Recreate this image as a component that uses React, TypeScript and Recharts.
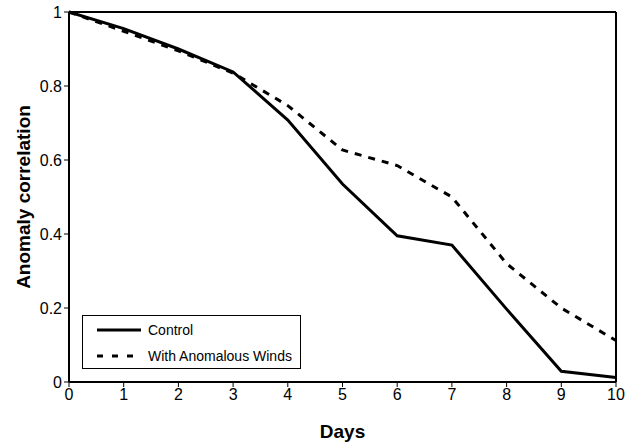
import React from "react";
import {
  LineChart,
  Line,
  XAxis,
  YAxis,
  ReferenceLine,
} from "recharts";

const days = [0, 1, 2, 3, 4, 5, 6, 7, 8, 9, 10];
const control = [1.0, 0.955, 0.9, 0.838, 0.708, 0.535, 0.395, 0.37, 0.197, 0.029, 0.012];
const anomalousWinds = [1.0, 0.948, 0.895, 0.835, 0.747, 0.627, 0.585, 0.5, 0.32, 0.2, 0.112];
const yTicks = [0, 0.2, 0.4, 0.6, 0.8, 1];
const seriesNames = ["Control", "With Anomalous Winds"];

const data = days.map((d, i) => ({
  day: d,
  control: control[i],
  winds: anomalousWinds[i],
}));

const font = "'Liberation Sans', Arial, sans-serif";

function LegendBox() {
  return (
    <div
      style={{
        position: "absolute",
        left: 82,
        top: 315,
        width: 219,
        height: 54,
        border: "1px solid #000",
        background: "#fff",
        fontFamily: font,
        fontSize: 14,
        color: "#000",
        boxSizing: "border-box",
      }}
    >
      <div style={{ display: "flex", alignItems: "center", height: 26, paddingTop: 1 }}>
        <svg width={65} height={10}>
          <line x1={14} y1={5} x2={58} y2={5} stroke="#000" strokeWidth={3} />
        </svg>
        <span>{seriesNames[0]}</span>
      </div>
      <div style={{ display: "flex", alignItems: "center", height: 26 }}>
        <svg width={65} height={10}>
          <line x1={14} y1={5} x2={58} y2={5} stroke="#000" strokeWidth={3} strokeDasharray="6 9" />
        </svg>
        <span>{seriesNames[1]}</span>
      </div>
    </div>
  );
}

export default function App() {
  return (
    <div style={{ position: "absolute", left: 0, top: 0, width: 635, height: 443, background: "#fff" }}>
      <LineChart
        width={635}
        height={443}
        data={data}
        margin={{ top: 12, right: 19, bottom: 0, left: 19 }}
      >
        <XAxis
          dataKey="day"
          type="number"
          domain={[0, 10]}
          ticks={days}
          height={61}
          stroke="#000"
          axisLine={{ stroke: "#000", strokeWidth: 2 }}
          tickLine={{ stroke: "#000" }}
          tickSize={5}
          tick={{ fill: "#000", fontSize: 16, fontFamily: font }}
          label={{
            value: "Days",
            position: "insideBottom",
            offset: 5,
            fill: "#000",
            fontSize: 19,
            fontWeight: "bold",
            fontFamily: font,
          }}
        />
        <YAxis
          type="number"
          domain={[0, 1]}
          ticks={yTicks}
          width={50}
          stroke="#000"
          axisLine={{ stroke: "#000", strokeWidth: 2 }}
          tickLine={{ stroke: "#000" }}
          tickSize={5}
          tickFormatter={(v: number) => String(v)}
          tick={{ fill: "#000", fontSize: 16, fontFamily: font }}
          label={{
            value: "Anomaly correlation",
            angle: -90,
            position: "insideLeft",
            offset: 4,
            style: { textAnchor: "middle" },
            fill: "#000",
            fontSize: 19,
            fontWeight: "bold",
            fontFamily: font,
          }}
        />
        <ReferenceLine y={1} stroke="#000" strokeWidth={2} />
        <ReferenceLine x={10} stroke="#000" strokeWidth={2} />
        <Line
          dataKey="control"
          name={seriesNames[0]}
          stroke="#000"
          strokeWidth={3}
          dot={false}
          isAnimationActive={false}
        />
        <Line
          dataKey="winds"
          name={seriesNames[1]}
          stroke="#000"
          strokeWidth={3}
          strokeDasharray="7 7"
          dot={false}
          isAnimationActive={false}
        />
      </LineChart>
      <LegendBox />
    </div>
  );
}
